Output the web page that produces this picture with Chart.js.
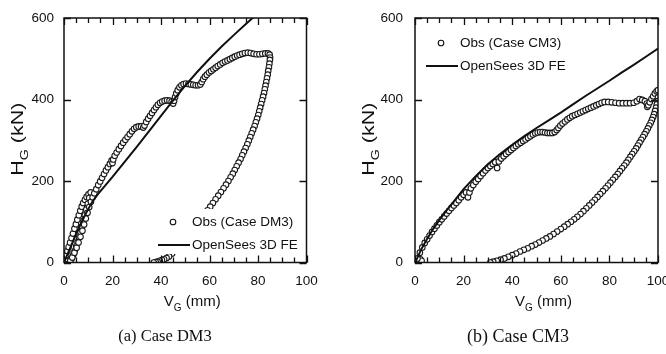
<!DOCTYPE html>
<html lang="en">
<head>
<meta charset="utf-8">
<title>Case DM3 / Case CM3</title>
<script src="https://cdn.jsdelivr.net/npm/chart.js@4.4.1/dist/chart.umd.min.js"></script>
<style>
  html, body { margin: 0; padding: 0; background: #fff; }
  .panel { position: absolute; top: 0; width: 333px; height: 354px; }
  canvas { display: block; }
</style>
</head>
<body>
<div class="panel" style="left:0"><canvas id="graficoDM3" width="333" height="354"></canvas></div>
<div class="panel" style="left:333px"><canvas id="graficoCM3" width="333" height="354"></canvas></div>
<script>
// ticks de los ejes
const ticksV = [0, 20, 40, 60, 80, 100];
const ticksH = [0, 200, 400, 600];

// Case DM3 - ensayo (V_G en mm, H_G en kN)
const dm3ObsV = [
  0, 0.4, 0.9, 1.4, 1.9, 2.5, 3.1, 3.7, 4.3, 4.9, 5.5, 6.1, 6.7, 7.3, 7.9, 8.6, 9.3, 10.1, 11,
  10.4, 9.8, 9.2, 8.6, 8, 7.4, 6.8, 6.2, 5.6, 5, 4.4, 3.8, 3.2, 2.6,
  3.4, 4.3, 5.2, 6, 6.8, 7.6, 8.3, 9, 9.7, 10.4, 11.1, 11.8, 12.5,
  13.3, 14.1, 14.9, 15.7, 16.5, 17.3, 18.1, 18.9, 19.6, 20,
  20.3, 20.9, 21.7, 22.6, 23.5, 24.4, 25.3, 26.2, 27.1, 28,
  28.9, 29.8, 30.8, 31.8, 32.7, 33.2, 33.9, 34.7, 35.5, 36.3,
  37.1, 37.9, 38.7, 39.6, 40.5, 41.5, 42.5, 43.5, 44.4, 45,
  45.4, 45.8, 46.3, 46.9, 47.6, 48.4, 49.3, 50.3, 51.3, 52.3,
  53.3, 54.3, 55.3, 56.2, 56.8, 57.4, 58.1, 58.9, 59.8, 60.7,
  61.6, 62.5, 63.4, 64.4, 65.4, 66.4, 67.4, 68.4, 69.4, 70.4,
  71.4, 72.4, 73.5, 74.6, 75.8, 77, 78.2, 79.4, 80.6, 81.8,
  83, 84.1, 84.8, 85,
  84.9, 84.7, 84.5, 84.2, 84, 83.7, 83.4, 83.1, 82.8, 82.5,
  82.1, 81.7, 81.3, 80.9, 80.5, 80.1, 79.6, 79.1, 78.6, 78,
  77.4, 76.8, 76.2, 75.6, 74.9, 74.2, 73.5, 72.8, 72, 71.2,
  70.4, 69.6, 68.7, 67.8, 66.8, 65.8, 64.7, 63.6, 62.5, 61.4,
  60.3, 59.2, 58, 56.5, 55, 53.3, 51.6, 49.8, 48, 46.2,
  44.6, 43.3, 42.3, 41.3, 40.4, 39.5, 38.6, 37.8, 37
];
const dm3ObsH = [
  0, 8, 18, 28, 38, 49, 60, 71, 83, 94, 105, 116, 127, 137, 146, 154, 161, 167, 172,
  158, 144, 130, 116, 102, 88, 75, 62, 50, 39, 28, 18, 10, 4,
  12, 24, 36, 49, 63, 78, 93, 108, 122, 136, 149, 160, 170,
  180, 190, 199, 208, 217, 226, 234, 242, 250, 244,
  253, 262, 270, 278, 286, 294, 301, 308, 315, 322,
  328, 332, 334, 334, 331, 336, 345, 353, 360, 367,
  374, 381, 387, 392, 395, 397, 398, 397, 395, 390,
  397, 406, 415, 423, 430, 435, 438, 439, 438, 437,
  436, 435, 435, 437, 443, 450, 456, 461, 466, 470,
  474, 478, 482, 486, 490, 493, 496, 499, 502, 505,
  508, 510, 512, 514, 515, 514, 512, 511, 511, 512,
  513, 513, 510, 503,
  497, 488, 479, 470, 461, 452, 443, 434, 425, 416,
  407, 398, 389, 380, 371, 362, 353, 344, 335, 326,
  317, 308, 299, 290, 281, 272, 263, 254, 245, 236,
  227, 218, 209, 200, 191, 182, 173, 164, 155, 146,
  137, 128, 118, 106, 94, 81, 69, 57, 45, 33,
  22, 15, 11, 8, 6, 4, 2, 1, 0
];
// Case DM3 - modelo OpenSees
const dm3FeV = [0, 1, 2, 3, 4, 5, 6, 7, 8, 9, 10, 11, 12, 14, 16, 18, 20, 25, 30, 35, 40, 45, 50, 55, 60, 65, 70, 75, 80];
const dm3FeH = [0, 14, 28, 42, 56, 70, 83, 96, 108, 120, 131, 142, 152, 168, 182, 196, 210, 247, 284, 322, 360, 398, 434, 468, 500, 530, 558, 585, 612];

// Case CM3 - ensayo
const cm3ObsV = [
  0.4, 1, 1.6, 2.2, 2.7,
  1, 2, 3, 4, 5, 6, 7, 8, 9, 10,
  11, 12, 13, 14, 15, 16, 17, 18, 19, 20,
  21, 21.8, 22.4, 23, 24, 25, 26, 27, 28, 29,
  30, 31, 32, 33, 33.8, 34.5, 35.5, 36.5, 37.5, 38.5,
  39.5, 40.5, 41.5, 42.5, 43.5, 44.5, 45.5, 46.5, 47.5, 48.5,
  49.5, 50.5, 51.5, 52.5, 53.5, 54.5, 55.5, 56.5, 57.5, 58.3,
  59, 59.8, 60.7, 61.7, 62.7, 63.7, 64.7, 65.8, 66.9, 68,
  69.1, 70.2, 71.3, 72.4, 73.5, 74.6, 75.7, 76.8, 78, 79.5,
  81, 82.5, 84, 85.5, 87, 88.5, 90, 91.3, 92.4, 93.5,
  94.6, 95.4, 95.6, 96, 96.6, 97.3, 98, 98.7, 99.4, 100,
  100, 99.8, 99.5, 99.2, 98.8, 98.4, 98, 97.5, 97, 96.4,
  95.8, 95.2, 94.5, 93.8, 93.1, 92.4, 91.7, 91, 90.2, 89.4,
  88.6, 87.8, 87, 86.1, 85.2, 84.3, 83.4, 82.4, 81.4, 80.4,
  79.4, 78.4, 77.3, 76.2, 75.1, 74, 72.9, 71.7, 70.5, 69.3,
  68.1, 66.8, 65.5, 64.2, 62.8, 61.4, 60, 58.5, 57, 55.5,
  54, 52.5, 51, 49.5, 48, 46.4, 44.8, 43.2, 41.6, 40,
  38.4, 36.8, 35.2, 33.6, 32.2, 31
];
const cm3ObsH = [
  2, 6, 3, 8, 4,
  10, 24, 37, 48, 57, 66, 75, 83, 91, 99,
  106, 113, 120, 127, 134, 140, 146, 153, 160, 166,
  172, 160, 172, 182, 190, 198, 205, 212, 219, 226,
  232, 237, 242, 246, 232, 248, 255, 261, 266, 271,
  276, 281, 286, 290, 294, 298, 302, 306, 310, 314,
  317, 319, 320, 320, 319, 318, 318, 318, 320, 325,
  330, 336, 341, 346, 351, 355, 359, 362, 365, 368,
  371, 374, 377, 380, 383, 386, 389, 392, 394, 394,
  393, 392, 391, 391, 391, 391, 392, 396, 401, 399,
  396, 390, 382, 386, 393, 401, 408, 415, 420, 423,
  405, 396, 388, 380, 372, 364, 357, 350, 343, 336,
  329, 322, 315, 308, 301, 294, 287, 280, 273, 266,
  259, 252, 245, 238, 231, 224, 217, 210, 203, 196,
  189, 182, 175, 168, 161, 154, 147, 140, 133, 126,
  119, 112, 106, 100, 94, 88, 82, 76, 70, 64,
  59, 54, 49, 44, 40, 35, 31, 27, 22, 18,
  14, 10, 7, 4, 2, 0
];
// Case CM3 - modelo OpenSees
const cm3FeV = [0, 1, 2, 3, 5, 7, 10, 13, 16, 20, 25, 30, 35, 40, 45, 50, 55, 60, 65, 70, 75, 80, 85, 90, 95, 100];
const cm3FeH = [0, 12, 25, 37, 58, 78, 104, 128, 150, 180, 212, 241, 266, 289, 310, 330, 349, 368, 388, 408, 427, 446, 466, 485, 505, 525];

const fuente = "'Liberation Sans', Arial, sans-serif";
const fuenteSerif = "'Liberation Serif', 'Times New Roman', serif";
const negro = '#111';

const aPuntos = (vs, hs) => vs.map((v, i) => ({ x: v, y: hs[i] }));

// texto con subindice (H_G, V_G); estirar > 1 alarga el texto en su direccion
function textoSub(ctx, base, sub, resto, tam, estirar) {
  ctx.scale(estirar, 1);
  const chico = Math.round(tam * 0.66);
  ctx.font = tam + 'px ' + fuente;
  const wB = ctx.measureText(base).width;
  const wR = ctx.measureText(resto).width;
  ctx.font = chico + 'px ' + fuente;
  const wS = ctx.measureText(sub).width;
  let x = -(wB + wS + wR) / 2;
  ctx.textAlign = 'left';
  ctx.textBaseline = 'middle';
  ctx.font = tam + 'px ' + fuente;
  ctx.fillText(base, x, 0);
  ctx.font = chico + 'px ' + fuente;
  ctx.fillText(sub, x + wB, tam * 0.4);
  ctx.font = tam + 'px ' + fuente;
  ctx.fillText(resto, x + wB + wS, 0);
}

// marco con ticks hacia adentro, leyenda con fondo blanco, titulos y pie
const decoracion = {
  id: 'decoracion',
  afterDatasetsDraw(chart, args, opts) {
    const { ctx, chartArea: a, scales: { x, y } } = chart;
    ctx.save();

    // leyenda (tapa los datos que quedan debajo)
    const L = opts.leyenda;
    ctx.fillStyle = '#fff';
    ctx.fillRect(L.left, L.top, L.width, L.height);
    const fila1 = L.top + 13, fila2 = L.top + 36;
    ctx.strokeStyle = negro;
    ctx.lineWidth = 1.1;
    ctx.beginPath();
    ctx.arc(L.left + 18, fila1, 2.8, 0, Math.PI * 2);
    ctx.stroke();
    ctx.lineWidth = 2;
    ctx.beginPath();
    ctx.moveTo(L.left + 3, fila2);
    ctx.lineTo(L.left + 35, fila2);
    ctx.stroke();
    ctx.fillStyle = negro;
    ctx.font = '13.5px ' + fuente;
    ctx.textAlign = 'left';
    ctx.textBaseline = 'middle';
    ctx.fillText(opts.textoObs, L.left + 37, fila1);
    ctx.fillText('OpenSees 3D FE', L.left + 37, fila2);

    // marco
    ctx.strokeStyle = negro;
    ctx.lineWidth = 1.5;
    ctx.strokeRect(a.left, a.top, a.right - a.left, a.bottom - a.top);

    // ticks hacia adentro
    ctx.lineWidth = 1.3;
    ctx.beginPath();
    for (let v = 0; v <= 100; v += 5) {
      const px = Math.round(x.getPixelForValue(v)) + 0.5;
      const largo = ticksV.includes(v) ? 7 : 5;
      ctx.moveTo(px, a.bottom); ctx.lineTo(px, a.bottom - largo);
      ctx.moveTo(px, a.top); ctx.lineTo(px, a.top + largo);
    }
    ticksH.forEach(h => {
      const py = Math.round(y.getPixelForValue(h)) + 0.5;
      ctx.moveTo(a.left, py); ctx.lineTo(a.left + 7, py);
      ctx.moveTo(a.right, py); ctx.lineTo(a.right - 7, py);
    });
    ctx.stroke();
    ctx.restore();
  },
  afterDraw(chart, args, opts) {
    const { ctx, chartArea: a } = chart;
    ctx.save();
    ctx.fillStyle = negro;

    // titulo eje y
    ctx.save();
    ctx.translate(a.left - 46, (a.top + a.bottom) / 2 - 1);
    ctx.rotate(-Math.PI / 2);
    textoSub(ctx, 'H', 'G', ' (kN)', 16.5, 1.3);
    ctx.restore();

    // titulo eje x
    ctx.save();
    ctx.translate((a.left + a.right) / 2 + 7, 302);
    textoSub(ctx, 'V', 'G', ' (mm)', 15, 1);
    ctx.restore();

    // pie de figura
    ctx.font = opts.pieTam + 'px ' + fuenteSerif;
    ctx.textAlign = 'center';
    ctx.textBaseline = 'middle';
    ctx.fillText(opts.pie, opts.pieX, 337);
    ctx.restore();
  }
};

function crearGrafico(id, obs, fe, area, extra) {
  const ctx = document.getElementById(id).getContext('2d');
  return new Chart(ctx, {
    type: 'scatter',
    data: {
      datasets: [
        {
          label: 'OpenSees 3D FE',
          data: fe,
          showLine: true,
          borderColor: negro,
          borderWidth: 2,
          pointRadius: 0,
          tension: 0,
          clip: 0
        },
        {
          label: extra.textoObs,
          data: obs,
          showLine: false,
          pointStyle: 'circle',
          pointRadius: 2.8,
          pointBorderWidth: 1.1,
          borderColor: '#1a1a1a',
          backgroundColor: '#fff'
        }
      ]
    },
    options: {
      responsive: false,
      animation: false,
      events: [],
      layout: { padding: { top: 18, right: area.right, bottom: 0, left: 0 } },
      scales: {
        x: {
          type: 'linear',
          min: 0,
          max: 100,
          grid: { display: false, drawTicks: false },
          border: { display: false },
          afterBuildTicks: s => { s.ticks = ticksV.map(v => ({ value: v })); },
          afterFit: s => { s.height = 91.5; s.paddingLeft = 0; s.paddingRight = 0; },
          ticks: { color: negro, padding: 11, maxRotation: 0, autoSkip: false, font: { family: fuente, size: 13.5 } }
        },
        y: {
          type: 'linear',
          min: 0,
          max: 600,
          grid: { display: false, drawTicks: false },
          border: { display: false },
          afterBuildTicks: s => { s.ticks = ticksH.map(v => ({ value: v })); },
          afterFit: s => { s.width = area.left; s.paddingTop = 0; s.paddingBottom = 0; },
          ticks: { color: negro, padding: area.pad, font: { family: fuente, size: 13.5 } }
        }
      },
      plugins: {
        legend: { display: false },
        tooltip: { enabled: false },
        decoracion: extra
      }
    },
    plugins: [decoracion]
  });
}

crearGrafico('graficoDM3', aPuntos(dm3ObsV, dm3ObsH), aPuntos(dm3FeV, dm3FeH),
  { left: 64, right: 26.5, pad: 10 },
  {
    textoObs: 'Obs (Case DM3)',
    leyenda: { left: 155, top: 209, width: 149, height: 45 },
    pie: '(a) Case DM3',
    pieTam: 16.5,
    pieX: 165
  });

crearGrafico('graficoCM3', aPuntos(cm3ObsV, cm3ObsH), aPuntos(cm3FeV, cm3FeH),
  { left: 82, right: 8, pad: 12 },
  {
    textoObs: 'Obs (Case CM3)',
    leyenda: { left: 90, top: 30, width: 140, height: 46 },
    pie: '(b) Case CM3',
    pieTam: 18,
    pieX: 185
  });
</script>
</body>
</html>
